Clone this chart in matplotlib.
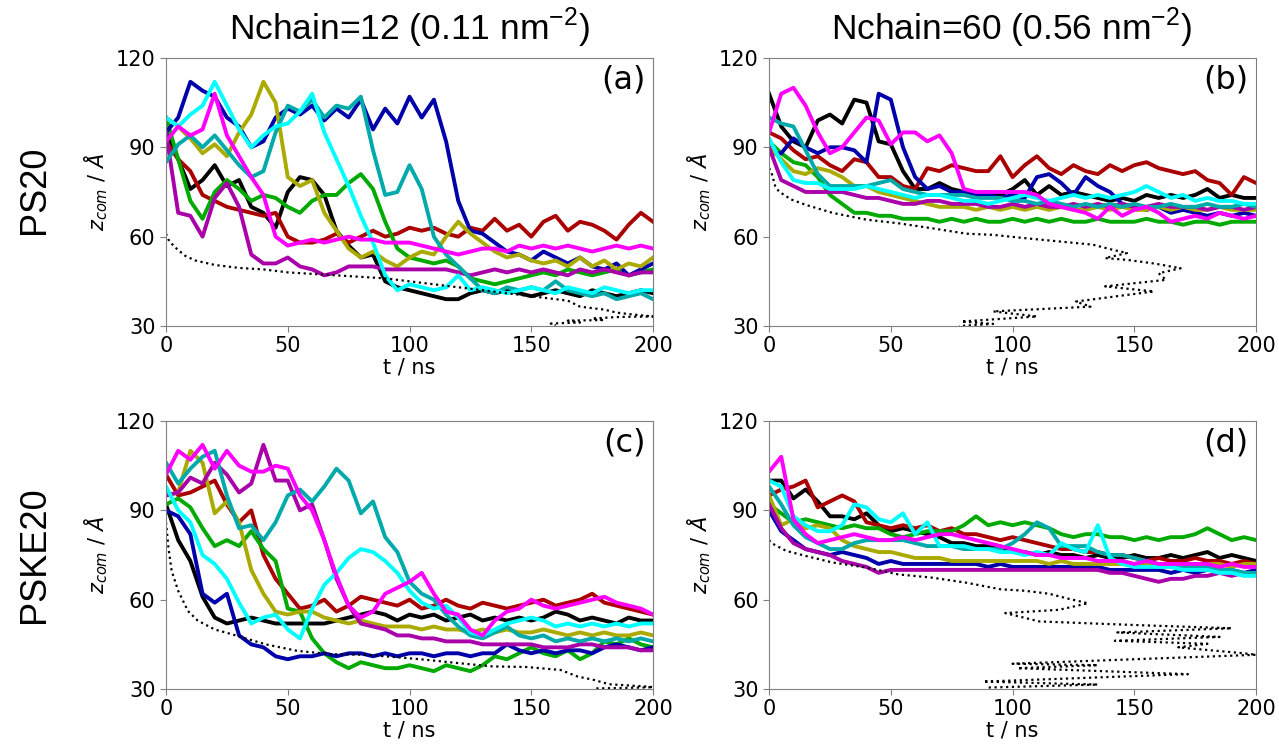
import numpy as np
import matplotlib
matplotlib.use("Agg")
from matplotlib import pyplot as plt

plt.rcParams['font.family'] = ['DejaVu Sans']

# time grid (ns)
t = np.arange(0, 201, 5)

# line colours, VMD style
colors = ["#000000", "#aa0000", "#00aa00", "#0000aa", "#aaaa00",
          "#aa00aa", "#00aaaa", "#00ffff", "#ff00ff"]

# ---------------- (a) PS20, Nchain=12 ----------------
a_black = [95, 86, 76, 79, 84, 77, 79, 70, 68, 63,
           75, 80, 79, 74, 62, 57, 53, 54, 45, 43,
           42, 41, 40, 39, 39, 41, 42, 41, 42, 41,
           40, 41, 42, 41, 40, 42, 41, 40, 41, 42,
           41]
a_red = [92, 86, 82, 74, 72, 70, 69, 68, 67, 68,
         60, 58, 58, 59, 61, 58, 60, 62, 60, 61,
         63, 62, 63, 61, 60, 63, 62, 66, 62, 64,
         60, 65, 67, 62, 65, 64, 62, 59, 64, 68,
         65]
a_green = [100, 86, 72, 66, 75, 79, 76, 72, 74, 73,
           70, 68, 72, 74, 74, 78, 81, 76, 65, 56,
           53, 52, 51, 52, 50, 46, 45, 44, 45, 46,
           47, 48, 47, 49, 48, 47, 48, 49, 47, 48,
           49]
a_blue = [95, 100, 112, 109, 107, 100, 97, 90, 92, 100,
          103, 101, 104, 99, 103, 100, 106, 96, 103, 98,
          107, 100, 106, 92, 72, 62, 61, 58, 55, 54,
          52, 55, 53, 51, 53, 50, 49, 51, 47, 49,
          51]
a_olive = [100, 97, 93, 88, 91, 87, 95, 101, 112, 105,
           80, 77, 79, 68, 62, 56, 53, 55, 52, 50,
           53, 55, 54, 60, 65, 61, 58, 55, 53, 54,
           52, 51, 52, 50, 53, 50, 52, 49, 51, 50,
           53]
a_purple = [95, 68, 67, 60, 73, 78, 70, 54, 51, 51,
            53, 50, 49, 47, 48, 50, 50, 50, 49, 49,
            49, 49, 49, 49, 48, 47, 48, 49, 48, 49,
            48, 49, 48, 47, 49, 48, 49, 48, 47, 48,
            48]
a_teal = [85, 91, 94, 90, 94, 89, 84, 80, 82, 95,
          104, 102, 106, 100, 104, 103, 107, 89, 74, 75,
          84, 76, 60, 54, 50, 46, 42, 41, 43, 42,
          43, 42, 45, 42, 41, 40, 41, 39, 40, 41,
          39]
a_cyan = [100, 97, 101, 104, 112, 104, 96, 90, 94, 97,
          98, 102, 108, 95, 86, 77, 67, 58, 47, 42,
          44, 43, 42, 43, 47, 42, 43, 42, 41, 42,
          43, 42, 41, 43, 42, 41, 43, 42, 41, 42,
          42]
a_magenta = [92, 97, 94, 96, 108, 94, 87, 80, 74, 60,
             57, 58, 59, 58, 59, 60, 59, 59, 58, 58,
             58, 57, 56, 55, 54, 55, 56, 56, 55, 57,
             56, 57, 56, 57, 56, 55, 56, 57, 56, 57,
             56]
a_dot_t = [0, 1, 2, 3, 5, 8, 12, 20, 30, 40, 50, 70, 90, 100, 110, 120,
           130, 140, 150, 160, 165, 170, 180, 185, 190, 200, 185, 175,
           180, 165, 170, 158, 160]
a_dot_z = [61, 59, 58, 57, 55.5, 53.5, 52, 50.5, 49.5, 49, 48, 47, 46, 45,
           44, 43, 42, 41, 40, 39, 38.5, 36.5, 35.5, 34.5, 34, 33.2, 33,
           32.5, 32, 31.8, 31.2, 30.8, 30.3]

# ---------------- (b) PS20, Nchain=60 ----------------
b_black = [108, 97, 92, 90, 99, 101, 98, 106, 105, 92,
           91, 82, 76, 76, 78, 76, 75, 74, 75, 74,
           76, 79, 74, 77, 74, 75, 74, 73, 72, 73,
           72, 74, 73, 74, 73, 74, 76, 73, 74, 73,
           73]
b_red = [95, 93, 89, 86, 87, 84, 82, 86, 85, 80,
         80, 77, 76, 83, 82, 84, 83, 82, 82, 87,
         80, 84, 87, 83, 81, 84, 82, 81, 84, 82,
         84, 85, 83, 82, 81, 82, 79, 78, 74, 80,
         78]
b_green = [92, 88, 85, 84, 80, 74, 71, 68, 68, 67,
           67, 66, 66, 66, 65, 66, 65, 66, 65, 65,
           66, 65, 66, 65, 66, 65, 65, 66, 65, 65,
           65, 66, 65, 65, 64, 65, 65, 64, 65, 65,
           65]
b_blue = [88, 88, 93, 90, 88, 90, 90, 89, 85, 108,
          106, 90, 80, 76, 77, 75, 75, 74, 74, 73,
          74, 73, 80, 81, 78, 74, 80, 77, 75, 71,
          70, 69, 70, 68, 69, 68, 67, 68, 67, 68,
          67]
b_olive = [90, 86, 82, 81, 83, 82, 80, 77, 77, 75,
           74, 73, 72, 71, 70, 70, 70, 69, 70, 69,
           70, 69, 70, 69, 70, 69, 69, 70, 69, 70,
           69, 69, 70, 69, 70, 69, 69, 70, 69, 69,
           69]
b_purple = [90, 79, 77, 75, 75, 75, 75, 74, 73, 73,
            72, 71, 71, 72, 72, 71, 71, 71, 70, 70,
            71, 70, 71, 70, 70, 71, 70, 71, 70, 71,
            70, 70, 71, 70, 70, 70, 69, 70, 70, 69,
            70]
b_teal = [100, 98, 97, 89, 81, 77, 77, 77, 77, 78,
          79, 76, 75, 74, 74, 74, 74, 73, 73, 73,
          72, 72, 71, 72, 71, 70, 71, 70, 71, 70,
          71, 70, 70, 71, 70, 70, 71, 70, 70, 71,
          70]
b_cyan = [93, 85, 79, 78, 78, 76, 76, 76, 77, 76,
          75, 74, 73, 74, 74, 73, 72, 72, 71, 72,
          73, 74, 73, 72, 73, 74, 73, 74, 73, 74,
          75, 77, 75, 73, 74, 72, 73, 72, 72, 71,
          71]
b_magenta = [95, 108, 110, 104, 95, 88, 90, 95, 100, 99,
             91, 95, 95, 92, 94, 88, 76, 75, 75, 75,
             75, 75, 74, 71, 70, 69, 68, 66, 70, 67,
             69, 70, 68, 65, 66, 67, 66, 68, 67, 66,
             67]
b_dot_t = [0, 1, 2.5, 4, 9, 15, 26, 40, 53, 67, 81, 92, 105, 119, 133, 141,
           147, 138, 147, 158, 169, 160, 163, 138, 158, 126, 132, 92, 110,
           79, 92, 78]
b_dot_z = [83, 81.5, 77, 75.2, 72.5, 70.7, 68, 65.7, 64.5, 62.8, 61, 60.6,
           59.5, 58.4, 57.3, 55.6, 54.5, 52.8, 52.2, 51, 49.4, 47.7, 45.5,
           43.3, 41.6, 38.2, 36.5, 34.9, 33.2, 31.5, 30.7, 30]

# ---------------- (c) PSKE20, Nchain=12 ----------------
c_black = [92, 80, 73, 61, 54, 52, 53, 54, 53, 52,
           52, 52, 52, 52, 53, 54, 55, 56, 55, 53,
           55, 54, 55, 53, 54, 55, 53, 54, 53, 54,
           53, 54, 56, 55, 53, 54, 53, 52, 54, 53,
           53]
c_red = [102, 95, 96, 98, 100, 92, 86, 90, 75, 67,
         62, 57, 58, 60, 56, 58, 61, 60, 59, 58,
         60, 57, 58, 60, 58, 57, 59, 58, 57, 58,
         59, 60, 58, 59, 60, 62, 59, 58, 57, 56,
         55]
c_green = [92, 94, 91, 84, 78, 80, 78, 83, 77, 73,
           57, 56, 47, 42, 39, 37, 39, 38, 37, 37,
           38, 37, 36, 38, 37, 36, 38, 41, 40, 42,
           44, 42, 41, 43, 40, 42, 46, 45, 47, 45,
           44]
c_blue = [90, 88, 82, 62, 59, 62, 48, 45, 44, 41,
          40, 41, 41, 42, 41, 42, 42, 41, 42, 41,
          42, 42, 41, 42, 42, 41, 42, 42, 45, 43,
          42, 43, 42, 43, 43, 42, 44, 45, 44, 43,
          44]
c_olive = [95, 96, 110, 106, 89, 93, 86, 70, 62, 56,
           55, 56, 56, 54, 53, 52, 53, 52, 51, 51,
           51, 50, 51, 50, 50, 49, 50, 49, 50, 49,
           49, 50, 49, 48, 49, 48, 49, 48, 48, 49,
           48]
c_purple = [95, 96, 101, 99, 106, 102, 96, 99, 112, 100,
            100, 90, 92, 80, 67, 58, 52, 51, 50, 48,
            48, 47, 47, 46, 46, 46, 45, 45, 45, 45,
            45, 44, 44, 44, 45, 45, 44, 44, 44, 43,
            43]
c_teal = [106, 99, 104, 108, 110, 95, 84, 85, 80, 86,
          95, 97, 93, 98, 104, 100, 89, 93, 81, 76,
          66, 62, 60, 55, 51, 48, 47, 49, 51, 48,
          47, 48, 46, 47, 46, 47, 46, 47, 46, 47,
          46]
c_cyan = [98, 90, 86, 75, 72, 67, 59, 52, 54, 55,
          50, 47, 57, 65, 69, 74, 77, 76, 73, 69,
          63, 59, 57, 58, 54, 49, 48, 50, 52, 53,
          54, 53, 51, 52, 51, 52, 51, 52, 51, 52,
          52]
c_magenta = [102, 110, 107, 112, 104, 110, 105, 103, 103, 105,
             104, 95, 90, 80, 68, 58, 54, 56, 62, 64,
             66, 69, 62, 56, 55, 50, 48, 53, 56, 57,
             60, 58, 57, 58, 59, 60, 61, 59, 58, 57,
             55]
c_dot_t = [0, 1, 2.3, 5, 9, 13, 20, 27, 41, 54, 68, 82, 96, 107, 120, 134,
           148, 162, 169, 176, 182, 190, 198, 200, 190, 176]
c_dot_z = [86, 77.5, 69.7, 63, 56.2, 53, 50, 48.4, 45, 42.8, 41.7, 41.5,
           40.6, 39.8, 38.7, 37.6, 37.4, 36.4, 34.2, 33, 31.6, 31.2, 30.8,
           30.6, 30.4, 30.2]

# ---------------- (d) PSKE20, Nchain=60 ----------------
d_black = [100, 100, 94, 97, 93, 88, 88, 87, 89, 85,
           83, 84, 83, 82, 81, 79, 79, 78, 78, 77,
           76, 76, 75, 76, 75, 75, 74, 75, 74, 74,
           75, 74, 74, 75, 74, 75, 76, 74, 75, 74,
           73]
d_red = [95, 97, 98, 100, 91, 93, 95, 93, 86, 85,
         84, 85, 84, 85, 83, 84, 82, 82, 81, 80,
         81, 80, 79, 78, 77, 77, 76, 76, 75, 75,
         74, 73, 74, 73, 73, 74, 73, 73, 72, 73,
         72]
d_green = [92, 89, 86, 87, 86, 85, 84, 85, 84, 84,
           82, 81, 82, 83, 83, 83, 85, 88, 85, 86,
           85, 86, 85, 84, 82, 81, 82, 82, 81, 81,
           80, 81, 80, 81, 81, 82, 84, 82, 80, 81,
           80]
d_blue = [90, 83, 80, 77, 76, 75, 76, 75, 74, 72,
          73, 72, 72, 72, 72, 72, 72, 72, 71, 72,
          71, 71, 71, 71, 71, 71, 71, 71, 70, 70,
          70, 70, 70, 69, 70, 69, 70, 70, 70, 69,
          70]
d_olive = [95, 85, 87, 84, 85, 84, 80, 78, 77, 76,
           76, 75, 74, 74, 74, 73, 73, 73, 73, 73,
           73, 73, 73, 72, 73, 72, 72, 72, 72, 72,
           72, 72, 71, 72, 72, 71, 72, 72, 71, 72,
           72]
d_purple = [92, 84, 79, 77, 76, 75, 73, 72, 71, 69,
            70, 70, 70, 70, 70, 70, 70, 70, 70, 70,
            70, 70, 70, 70, 70, 70, 70, 70, 69, 69,
            68, 67, 66, 67, 67, 68, 68, 69, 68, 69,
            69]
d_teal = [98, 92, 85, 81, 79, 77, 77, 79, 80, 80,
          80, 80, 79, 78, 78, 78, 77, 77, 77, 77,
          79, 82, 86, 84, 78, 78, 78, 76, 75, 75,
          74, 73, 72, 72, 71, 71, 71, 70, 70, 69,
          69]
d_cyan = [100, 98, 88, 85, 83, 83, 85, 92, 91, 87,
          86, 89, 82, 86, 78, 78, 78, 77, 77, 76,
          76, 75, 76, 75, 79, 77, 76, 85, 74, 72,
          71, 71, 71, 71, 70, 70, 70, 69, 69, 68,
          68]
d_magenta = [103, 108, 87, 82, 79, 80, 81, 82, 81, 80,
             80, 81, 80, 81, 82, 82, 81, 80, 79, 78,
             77, 76, 75, 75, 74, 74, 74, 73, 73, 73,
             72, 73, 72, 72, 72, 72, 72, 71, 72, 71,
             71]
d_dot_t = [0, 1, 7, 15, 26, 40, 53, 67, 81, 95, 105, 115, 122, 131, 119, 97,
           111, 150, 190, 143, 185, 142, 180, 168, 195, 200, 100, 135, 102,
           172, 88, 135, 90]
d_dot_z = [80, 79, 76.4, 74.7, 72.5, 70.8, 68.5, 67.4, 65.7, 63.5, 63, 62,
           60.5, 58.8, 56.6, 55.5, 52.7, 51.5, 50.4, 49, 47.5, 46.2, 45.2,
           44, 42, 41.5, 38.5, 38, 37, 35, 32.5, 31.5, 30.5]

panels = [
    ("(a)", [a_black, a_red, a_green, a_blue, a_olive, a_purple, a_teal, a_cyan, a_magenta], a_dot_t, a_dot_z),
    ("(b)", [b_black, b_red, b_green, b_blue, b_olive, b_purple, b_teal, b_cyan, b_magenta], b_dot_t, b_dot_z),
    ("(c)", [c_black, c_red, c_green, c_blue, c_olive, c_purple, c_teal, c_cyan, c_magenta], c_dot_t, c_dot_z),
    ("(d)", [d_black, d_red, d_green, d_blue, d_olive, d_purple, d_teal, d_cyan, d_magenta], d_dot_t, d_dot_z),
]

fig = plt.figure(figsize=(12.79, 7.47), dpi=100)
W, H = 0.3808, 0.3588
rects = [[0.1298, 0.5636, W, H], [0.6013, 0.5636, W, H],
         [0.1298, 0.0776, W, H], [0.6013, 0.0776, W, H]]

for rect, (lab, lines, dt, dz) in zip(rects, panels):
    ax = fig.add_axes(rect)
    for z, c in zip(lines, colors):
        ax.plot(t, z, color=c, lw=2.8)
    ax.plot(dt, dz, color="k", ls=(0, (1, 1.6)), lw=1.6)
    ax.set_xlim(0, 200)
    ax.set_ylim(30, 120)
    ax.set_xticks([0, 50, 100, 150, 200])
    ax.set_yticks([30, 60, 90, 120])
    ax.tick_params(labelsize=15, color="gray", length=4)
    for s in ax.spines.values():
        s.set_color("gray")
    ax.set_xlabel("t / ns", fontsize=15, labelpad=1)
    ax.set_ylabel(r"$z_{com}$ / $Å$", fontsize=15, labelpad=4)
    ax.text(0.985, 0.975, lab, transform=ax.transAxes, ha="right", va="top",
            fontsize=23)

tfam = ["Liberation Sans"]
fig.text(0.3202, 0.962, r"Nchain=12 (0.11 nm$^{\mathregular{-2}}$)", ha="center",
         va="center", fontsize=25.5, family=tfam)
fig.text(0.7909, 0.962, r"Nchain=60 (0.56 nm$^{\mathregular{-2}}$)", ha="center",
         va="center", fontsize=25.5, family=tfam)
fig.text(0.027, 0.746, "PS20", rotation=90, ha="center", va="center",
         fontsize=26, family=tfam)
fig.text(0.027, 0.257, "PSKE20", rotation=90, ha="center", va="center",
         fontsize=26, family=tfam)

fig.savefig("out.png", dpi=100)
